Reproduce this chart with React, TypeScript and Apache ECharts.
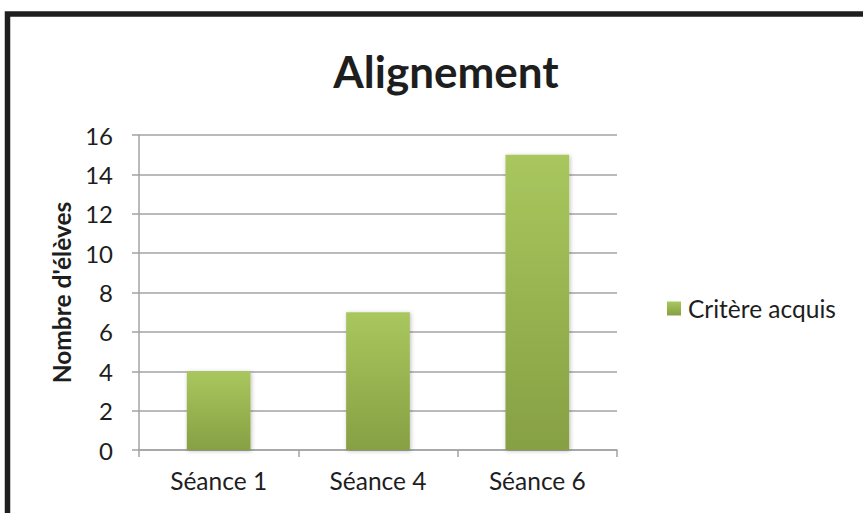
import React, { useEffect, useRef } from "react";
import * as echarts from "echarts";

const categories = ["Séance 1", "Séance 4", "Séance 6"];
const values = [4, 7, 15];
const seriesName = "Critère acquis";
const titleText = "Alignement";
const yAxisTitle = "Nombre d'élèves";

const FONT = "Lato, 'Open Sans', sans-serif";
const GRID = "#a3a3a3";
const TEXT = "#1e1e1e";

export default function App() {
  const ref = useRef<HTMLDivElement>(null);
  useEffect(() => {
    if (!ref.current) return;
    const chart = echarts.init(ref.current, undefined, { renderer: "svg" });
    const barGradient = new echarts.graphic.LinearGradient(0, 0, 0, 1, [
      { offset: 0, color: "#a9c75e" },
      { offset: 1, color: "#86a043" },
    ]);
    chart.setOption({
      animation: false,
      backgroundColor: "#ffffff",
      textStyle: { fontFamily: FONT },
      title: {
        text: titleText,
        left: 441,
        top: 44,
        textAlign: "center",
        textStyle: { fontFamily: FONT, fontSize: 44, fontWeight: "bold", color: TEXT },
      },
      legend: {
        left: 667,
        top: 296,
        padding: 0,
        itemWidth: 14,
        itemHeight: 14,
        icon: "rect",
        data: [seriesName],
        textStyle: { fontFamily: FONT, fontSize: 24.5, color: TEXT, padding: [0, 0, 0, 2] },
      },
      grid: { left: 139, top: 135, right: 246, bottom: 63, containLabel: false },
      xAxis: {
        type: "category",
        data: categories,
        axisLine: { show: true, lineStyle: { color: GRID, width: 1.5 } },
        axisTick: { show: true, length: 7, alignWithLabel: false, lineStyle: { color: GRID, width: 1.5 } },
        axisLabel: { margin: 18, fontFamily: FONT, fontSize: 24.5, color: TEXT },
        splitLine: { show: false },
      },
      yAxis: {
        type: "value",
        min: 0,
        max: 16,
        interval: 2,
        name: yAxisTitle,
        nameLocation: "middle",
        nameGap: 64,
        nameTextStyle: { fontFamily: FONT, fontSize: 24.5, fontWeight: "bold", color: TEXT },
        axisLine: { show: true, lineStyle: { color: GRID, width: 1.5 } },
        axisTick: { show: true, length: 7, lineStyle: { color: GRID, width: 1.5 } },
        axisLabel: { margin: 26, fontFamily: FONT, fontSize: 24, color: TEXT },
        splitLine: { show: true, lineStyle: { color: GRID, width: 1.5 } },
      },
      graphic: [
        {
          type: "rect",
          shape: { x: 7.5, y: 14, width: 1000, height: 700 },
          style: { fill: "none", stroke: "#1f1f1f", lineWidth: 5.5 },
          silent: true,
          z: 100,
        },
      ],
      series: [
        {
          name: seriesName,
          type: "bar",
          data: values,
          barWidth: "40%",
          itemStyle: {
            color: barGradient,
            shadowBlur: 4,
            shadowColor: "rgba(0,0,0,0.25)",
            shadowOffsetX: 1,
            shadowOffsetY: 1,
          },
        },
      ],
    });
    return () => chart.dispose();
  }, []);
  return (
    <div
      ref={ref}
      style={{ position: "fixed", left: 0, top: 0, width: 863, height: 513, background: "#fff" }}
    />
  );
}
